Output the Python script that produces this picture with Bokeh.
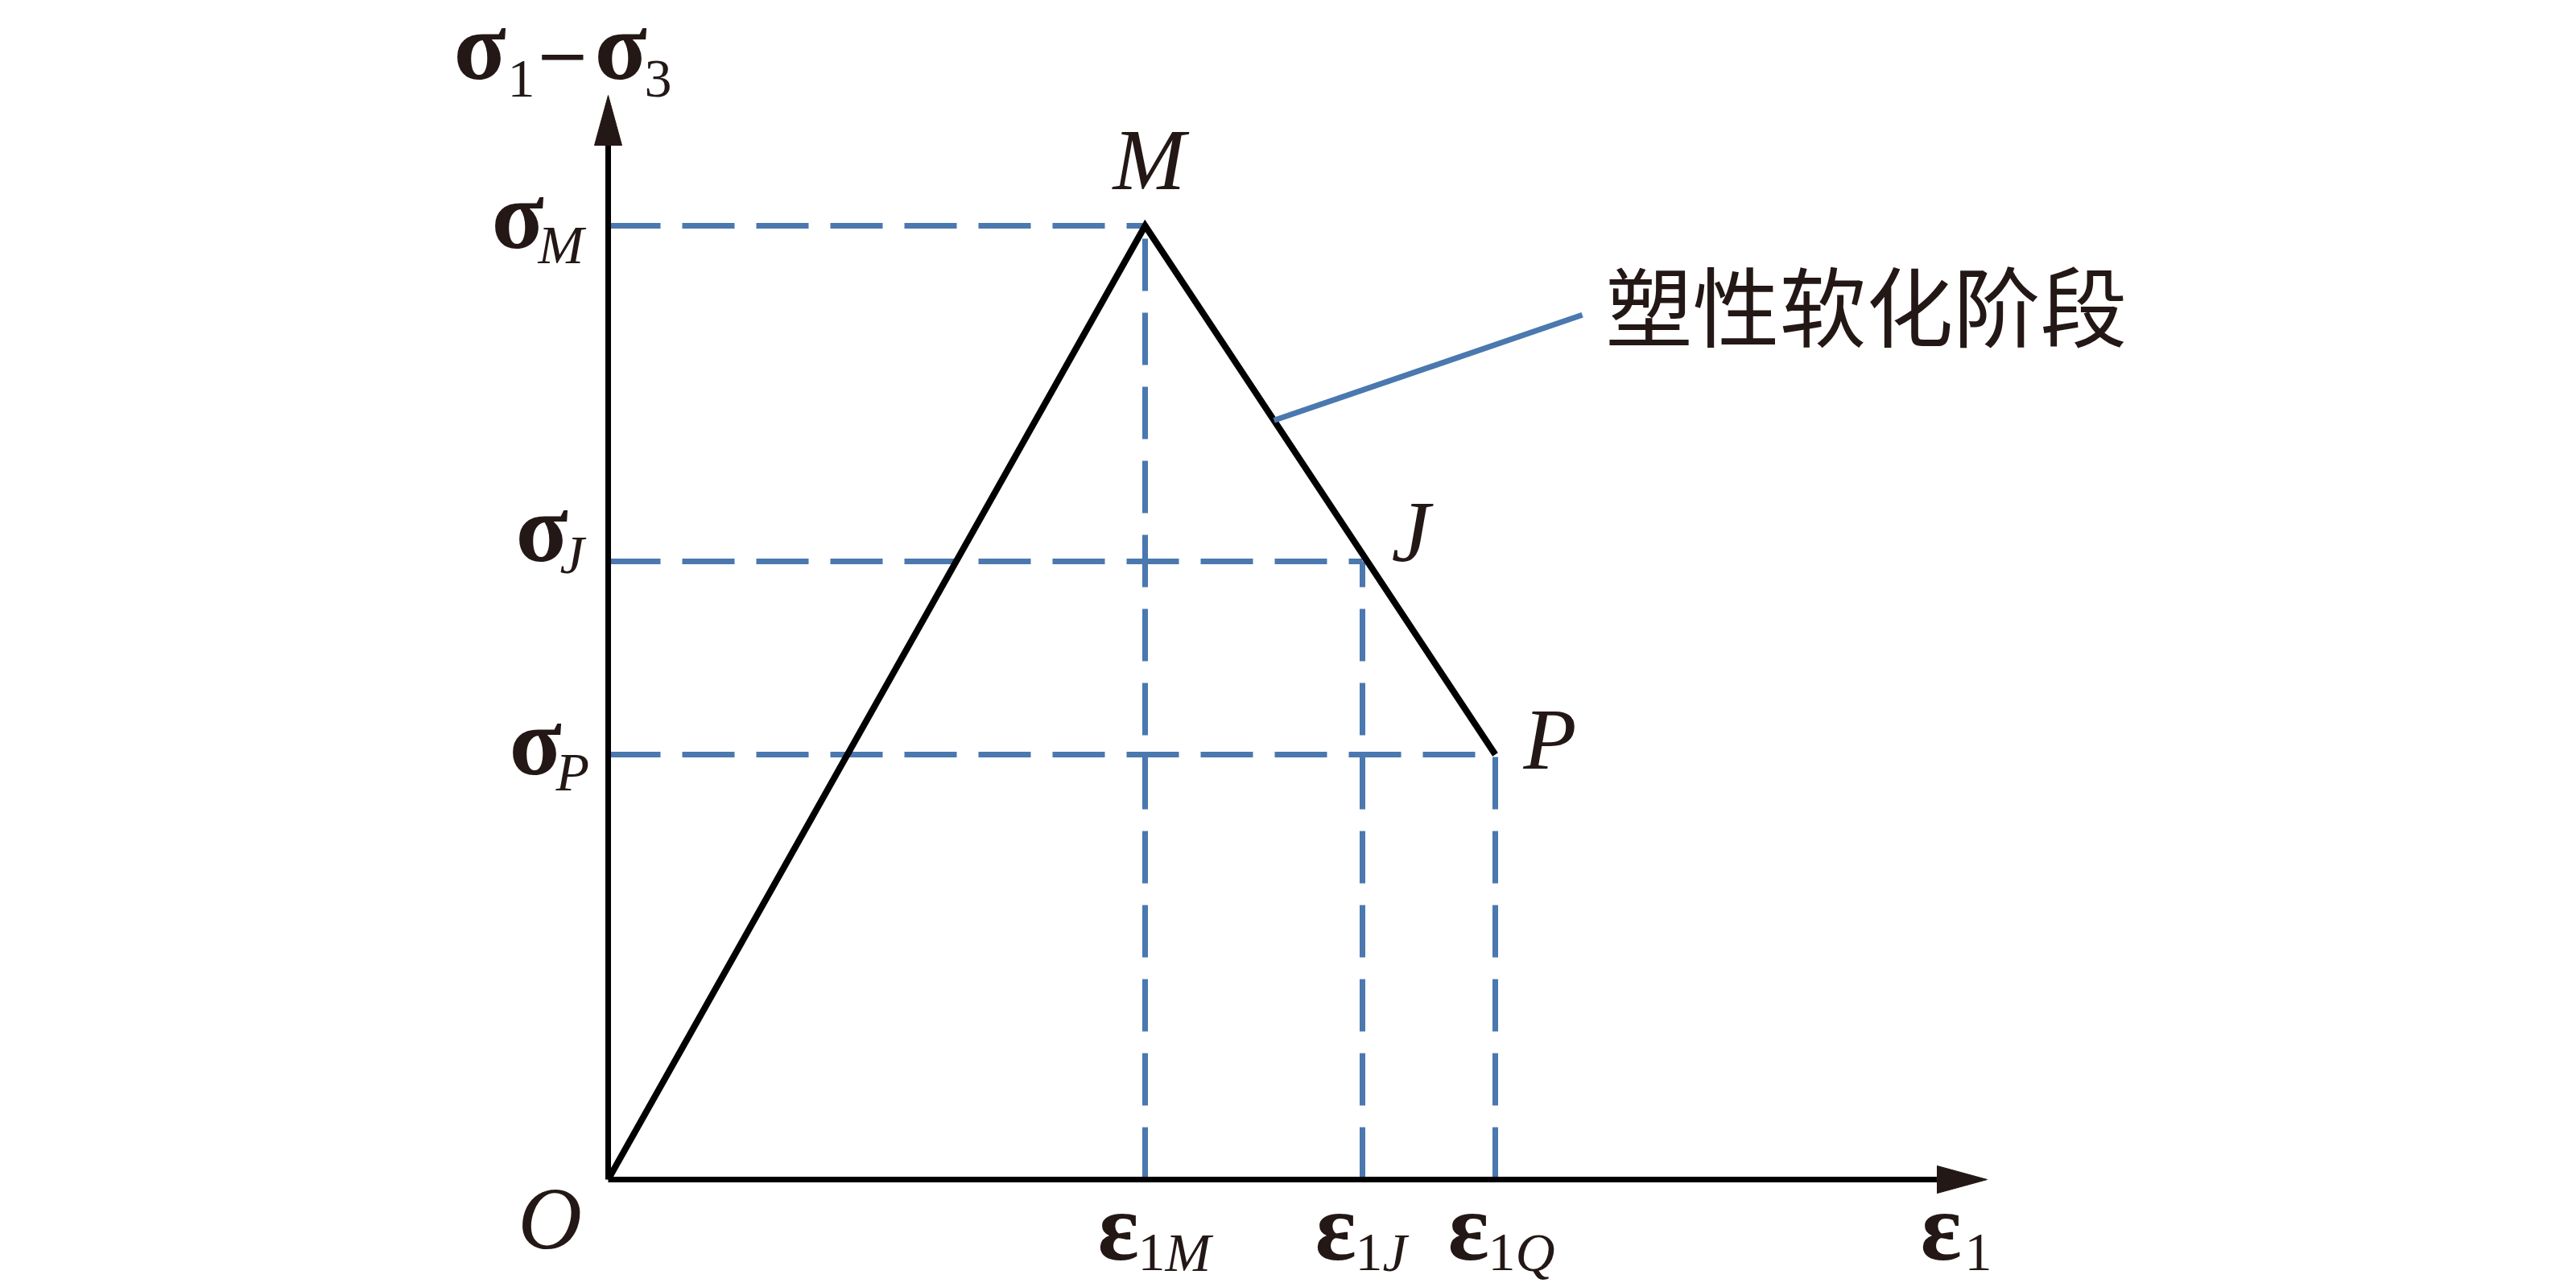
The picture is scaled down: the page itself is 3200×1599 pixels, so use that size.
from bokeh.plotting import figure
from bokeh.models import Range1d
from bokeh.core.properties import value
from bokeh.embed import file_html
from bokeh.resources import INLINE

# ---- data (schematic values, 1 unit = 1 px) ----
point_names = ["M", "J", "P"]
eps_vals = [667, 937, 1102]        # ε1M, ε1J, ε1Q
sig_vals = [1185, 768, 528]        # σM, σJ, σP
eps_subs = ["M", "J", "Q"]
curve_x = [0, 667, 1102]           # O -> M -> P
curve_y = [0, 1185, 528]
x_axis_end = 1713
y_axis_end = 1347
annotation_text = "塑性软化阶段"

W, H = 3184, 1595
OX, OY = 755, 1465   # origin position in page pixels
M0 = 0               # observed page offset
p = figure(width=W, height=H, output_backend="svg", toolbar_location=None,
           x_range=Range1d(M0 - OX, M0 - OX + W), y_range=Range1d(OY - M0 - H, OY - M0),
           min_border=0, min_border_left=0, min_border_right=0,
           min_border_top=0, min_border_bottom=0)
p.xaxis.visible = False
p.yaxis.visible = False
p.grid.visible = False
p.outline_line_color = None
p.background_fill_color = "white"
p.border_fill_color = "white"

BLUE = "#4a78af"
BLACK = "#000000"
TXT = "#231815"
SERIF = "Liberation Serif"
DASH = "65 27"
SHIFT = 0.34   # baseline correction (fraction of font size)


def txt(xs, ys, texts, size, style="normal", font=SERIF, baseline="alphabetic"):
    corr = SHIFT * size if baseline == "alphabetic" else 0
    p.text(x=list(xs), y=[y + corr for y in ys], text=list(texts),
           text_font=value(font), text_font_style=style,
           text_font_size=f"{size}px", text_color=TXT,
           text_baseline=baseline, text_align="left")


# dashed guide lines
p.segment(x0=[0] * 3, y0=sig_vals, x1=eps_vals, y1=sig_vals,
          line_color=BLUE, line_width=7, line_dash=DASH)
p.segment(x0=eps_vals, y0=[0] * 3, x1=eps_vals, y1=sig_vals,
          line_color=BLUE, line_width=7, line_dash=DASH)

# curve
p.line(curve_x, curve_y, line_color=BLACK, line_width=8, line_join="miter")

# leader line for annotation (starts on segment M-P)
t = 0.368
lx0 = curve_x[1] + t * (curve_x[2] - curve_x[1])
ly0 = curve_y[1] + t * (curve_y[2] - curve_y[1])
p.line([lx0, lx0 + 383], [ly0, ly0 + 131], line_color=BLUE, line_width=7)
txt([lx0 + 412], [ly0 + 146], [annotation_text], 108,
    font="Noto Sans CJK SC", baseline="middle")

# axes with arrowheads
hl, hw = 62, 17
p.line([0, x_axis_end - hl + 2], [0, 0], line_color=BLACK, line_width=7)
p.line([0, 0], [0, y_axis_end - hl + 2], line_color=BLACK, line_width=7)
p.patch([x_axis_end, x_axis_end - hl, x_axis_end - hl], [0, hw, -hw], color=TXT)
p.patch([0, hw, -hw], [y_axis_end, y_axis_end - hl, y_axis_end - hl], color=TXT)

# point labels M, J, P
txt([eps_vals[0] - 40, eps_vals[1] + 36, eps_vals[2] + 35],
    [sig_vals[0] + 45, sig_vals[1] + 0, sig_vals[2] - 18],
    point_names, 108, "italic")
# origin O
txt([-112], [-86], ["O"], 110, "italic")

# y tick labels σ_M, σ_J, σ_P
sig_dx = [-145, -115, -123]
sig_dy = [-28, 0, -25]
txt(sig_dx, [s + d for s, d in zip(sig_vals, sig_dy)], ["σ"] * 3, 120, "bold")
txt([-87, -60, -65], [s + d for s, d in zip(sig_vals, [-47, -15, -45])],
    point_names, 68, "italic")

# x tick labels ε_1M, ε_1J, ε_1Q
txt([e - 59 for e in eps_vals], [-100] * 3, ["ε"] * 3, 120, "bold")
txt([e - 9 for e in eps_vals], [-114] * 3, ["1"] * 3, 68)
txt([e + 25 for e in eps_vals], [-114] * 3, eps_subs, 68, "italic")

# axis titles
txt([x_axis_end - 83], [-100], ["ε"], 120, "bold")
txt([x_axis_end - 28], [-114], ["1"], 68)

ty = y_axis_end + 20
txt([-192, -17], [ty, ty], ["σ", "σ"], 120, "bold")
txt([-125, 45], [ty - 23, ty - 23], ["1", "3"], 68)
txt([-91], [ty + 32], ["−"], 82, font="DejaVu Serif", baseline="middle")

open("out.html", "w").write(file_html(p, INLINE))
